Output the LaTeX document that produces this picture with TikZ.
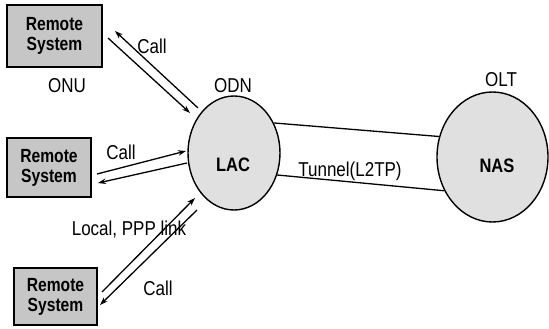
\documentclass[tikz,border=0pt]{standalone}
\usepackage{fontspec}
\setmainfont{Liberation Sans}
\usetikzlibrary{shapes.geometric,arrows.meta}
\definecolor{boxgray}{HTML}{C6C6C6}
\definecolor{cloudgray}{HTML}{E0E0E0}
\newcommand{\tallbox}[1]{\scalebox{0.92}[1.12]{#1}}
\newcommand{\talltext}[1]{\scalebox{1}[1.18]{#1}}
\begin{document}
\begin{tikzpicture}[x=1pt,y=-1pt,
  remote/.style={draw, line width=1.4pt, fill=boxgray, rectangle, inner sep=0pt,
    font=\fontsize{17}{22}\selectfont\bfseries, align=center},
  cloud/.style={draw, line width=1.4pt, fill=cloudgray, ellipse, inner sep=0pt},
  lbl/.style={font=\fontsize{17}{20}\selectfont, inner sep=0pt},
  blbl/.style={font=\fontsize{16.5}{20}\selectfont\bfseries, inner sep=0pt},
  conn/.style={line width=1.3pt},
  arr/.style={line width=1.3pt, -{Stealth[length=8pt,width=5.5pt]}}]
\useasboundingbox (0,0) rectangle (549,329);
\fill[white] (0,0) rectangle (549,329);

\node[remote, minimum width=95pt, minimum height=62pt] (r1) at (54.5,36) {\tallbox{Remote}\\[-2pt]\tallbox{System}};
\node[remote, minimum width=84pt, minimum height=59pt] (r2) at (49,167.5) {\tallbox{Remote}\\[-2pt]\tallbox{System}};
\node[remote, minimum width=83pt, minimum height=57pt] (r3) at (55.5,296.5) {\tallbox{Remote}\\[-2pt]\tallbox{System}};

\node[cloud, minimum width=92pt, minimum height=114pt] (lac) at (234,153) {};
\node[cloud, minimum width=111pt, minimum height=130pt] (nas) at (492.5,157) {};
\node[blbl] (lact) at (233,165) {\talltext{LAC}};
\node[blbl] (nast) at (497,166) {\talltext{NAS}};

\node[lbl] (onu) at (67,86) {\talltext{ONU}};
\node[lbl] (odn) at (233,86) {\talltext{ODN}};
\node[lbl] (olt) at (501,80) {\talltext{OLT}};
\node[lbl] (tun) at (350,171) {\talltext{Tunnel(L2TP)}};
\node[lbl] (call1) at (152,46) {\talltext{Call}};
\node[lbl] (call2) at (121,152) {\talltext{Call}};
\node[lbl] (call3) at (158,288) {\talltext{Call}};
\node[lbl] (local) at (129,230) {\talltext{Local, PPP link}};

\draw[conn] (lac.37) -- (nas.159);
\draw[conn] (lac.-27) -- (nas.215);

\coordinate (a1s) at (198,108); \coordinate (a1e) at (115,31);
\coordinate (b1s) at (108,38);  \coordinate (b1e) at (190,113);
\coordinate (a2s) at (97,174);  \coordinate (a2e) at (186,151);
\coordinate (b2s) at (187,163); \coordinate (b2e) at (98,183);
\coordinate (a3s) at (102,292); \coordinate (a3e) at (195,198);
\coordinate (b3s) at (197,210); \coordinate (b3e) at (100,305);

\draw[arr] (a1s) -- (a1e);
\draw[arr] (b1s) -- (b1e);
\draw[arr] (a2s) -- (a2e);
\draw[arr] (b2s) -- (b2e);
\draw[arr] (a3s) -- (a3e);
\draw[arr] (b3s) -- (b3e);
\end{tikzpicture}
\end{document}
